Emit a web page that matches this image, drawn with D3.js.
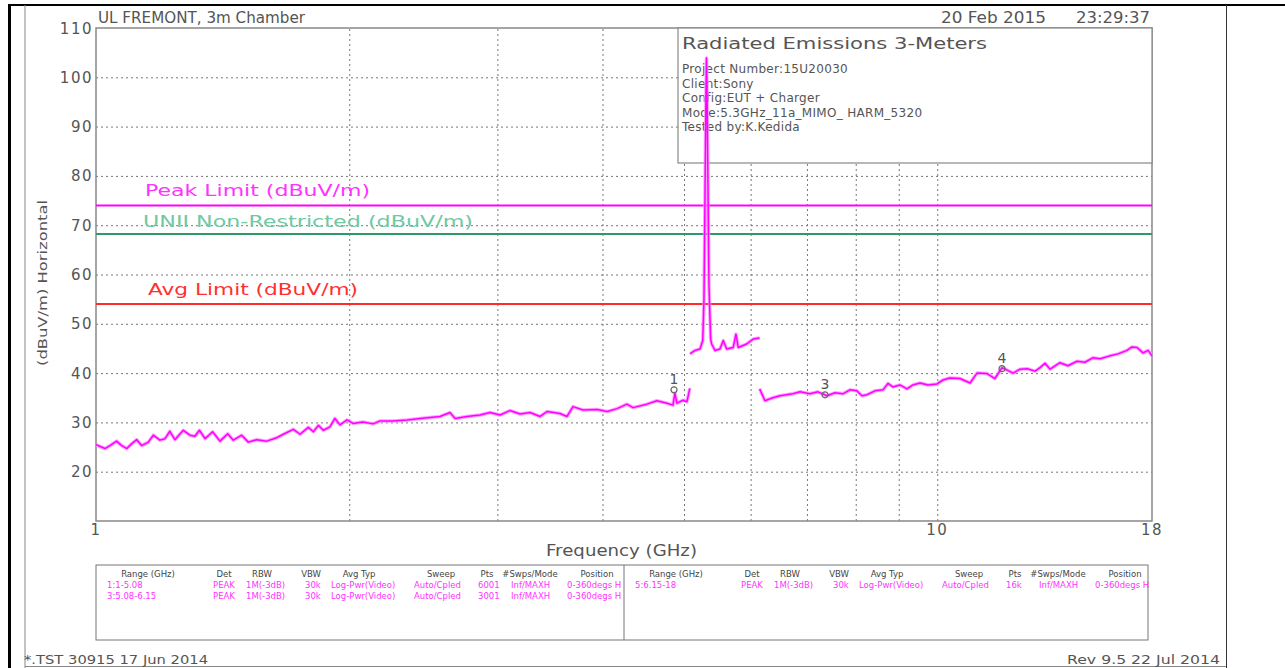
<!DOCTYPE html>
<meta charset="utf-8">
<title>radiated emissions</title>
<style>
  body { margin: 0; background: #fff; }
  text { font-family: "DejaVu Sans", sans-serif; fill: #555; }
  .grid line { stroke: #777; stroke-dasharray: 2,3; }
  .grid path { display: none; }
</style>
<body>
<div class="chart"></div>
</body>
<script src="https://d3js.org/d3.v7.min.js"></script>
<script>

// trace readings, [GHz, dBuV/m]

var seg1 = [
  [1.0,25.5],[1.025,24.7],[1.039,25.3],[1.058,26.2],[1.073,25.3],[1.088,24.7],[1.103,25.7],
  [1.118,26.5],[1.133,25.3],[1.154,26],[1.170,27.4],[1.191,26.4],[1.208,26.7],[1.224,28.2],
  [1.241,26.5],[1.270,28.4],[1.293,27.4],[1.311,27.2],[1.327,28.4],[1.348,26.7],[1.376,28.1],
  [1.404,26.2],[1.434,27.7],[1.456,26.4],[1.490,27.4],[1.517,26],[1.553,26.5],[1.596,26.2],
  [1.640,26.9],[1.670,27.6],[1.716,28.6],[1.748,27.6],[1.788,29],[1.813,28.1],[1.838,29.4],
  [1.863,28.4],[1.897,29.1],[1.923,30.8],[1.950,29.5],[1.988,30.5],[2.021,29.8],[2.077,30.1],
  [2.135,29.7],[2.176,30.3],[2.254,30.3],[2.343,30.5],[2.428,30.8],[2.495,31],[2.564,31.2],
  [2.635,32],[2.672,30.8],[2.761,31.2],[2.861,31.5],[2.940,32],[3.022,31.5],[3.105,32.4],
  [3.192,31.7],[3.281,32],[3.372,31.2],[3.437,32.2],[3.561,31.8],[3.630,31.2],[3.690,33.2],
  [3.793,32.5],[3.941,32.6],[4.051,32.2],[4.163,32.8],[4.278,33.7],[4.349,33],[4.518,33.7],
  [4.643,34.4],[4.772,33.9],[4.851,33.5],[4.877,35.9],[4.904,33.9],[4.985,34.5],[5.040,34.2],
  [5.08,36.9]
];

var seg2 = [
  [5.083,43.9],[5.153,44.6],[5.224,44.9],[5.263,46.6],[5.281,55],[5.295,75],[5.310,97],
  [5.317,103.9],[5.324,98],[5.339,78],[5.353,58],[5.378,47],[5.393,45.9],[5.442,44.6],
  [5.517,44.9],[5.567,46.6],[5.619,44.9],[5.721,45.2],[5.764,47.9],[5.800,45.2],[5.934,45.9],
  [6.043,46.9],[6.15,47.1]
];

var seg3 = [
  [6.15,36.8],[6.240,34.4],[6.378,35],[6.502,35.4],[6.737,35.8],[6.868,36.2],[7.058,35.8],
  [7.214,36.2],[7.394,35.4],[7.558,36],[7.725,35.8],[7.874,36.6],[8.026,36.4],[8.137,35.4],
  [8.249,35.6],[8.433,36.4],[8.619,36.6],[8.738,37.9],[8.857,37.2],[9.029,37.6],[9.204,36.8],
  [9.356,37.6],[9.538,38],[9.750,37.6],[9.993,37.8],[10.16,38.6],[10.35,39],[10.64,38.9],
  [10.94,38],[11.15,40],[11.46,39.9],[11.71,38.9],[11.94,41.1],[12.31,40],[12.54,40.8],
  [12.79,40.9],[13.07,40.4],[13.25,41.1],[13.43,42],[13.62,40.8],[13.99,42.1],[14.30,41.5],
  [14.66,42.4],[14.98,42.2],[15.31,43.1],[15.61,42.9],[16.04,43.5],[16.40,43.9],[16.81,44.6],
  [17.04,45.3],[17.28,45.2],[17.56,44.1],[17.81,44.6],[18,43.5]
];

// limits
var limitNames = ["Peak Limit (dBuV/m)", "UNII Non-Restricted (dBuV/m)", "Avg Limit (dBuV/m)"];
var limitValues = [74, 68.2, 54];

// markers
var markerIds = ["1", "3", "4"];
var markerFreqs = [4.865, 7.355, 11.94];
var markerLevels = [36.6, 35.6, 40.9];

// ticks
var yTicks = [20, 30, 40, 50, 60, 70, 80, 90, 100, 110];
var xGrid = [2, 3, 4, 5, 6, 7, 8, 9, 10];
var xLabels = [1, 10, 18];

// header and info box
var siteName = "UL FREMONT, 3m Chamber";
var runDate = "20 Feb 2015";
var runTime = "23:29:37";
var infoTitle = "Radiated Emissions 3-Meters";
var infoLines = ["Project Number:15U20030", "Client:Sony", "Config:EUT + Charger",
  "Mode:5.3GHz_11a_MIMO_ HARM_5320", "Tested by:K.Kedida"];

// sweep table
var tableHeaders = ["Range (GHz)", "Det", "RBW", "VBW", "Avg Typ", "Sweep", "Pts", "#Swps/Mode", "Position"];
var tableLeft = [
  ["1:1-5.08", "PEAK", "1M(-3dB)", "30k", "Log-Pwr(Video)", "Auto/Cpled", "6001", "Inf/MAXH", "0-360degs H"],
  ["3:5.08-6.15", "PEAK", "1M(-3dB)", "30k", "Log-Pwr(Video)", "Auto/Cpled", "3001", "Inf/MAXH", "0-360degs H"]
];
var tableRight = [
  ["5:6.15-18", "PEAK", "1M(-3dB)", "30k", "Log-Pwr(Video)", "Auto/Cpled", "16k", "Inf/MAXH", "0-360degs H"]
];

var W = 1285, H = 668;
var pL = 96, pR = 1152, pT = 28, pB = 521;

var svg = d3.select(".chart").append("svg")
    .attr("width", W)
    .attr("height", H);

// page frame
svg.append("line").attr("x1", 8).attr("x2", W).attr("y1", 5).attr("y2", 5)
  .attr("stroke", "#000").attr("stroke-width", 2);
svg.append("line").attr("x1", 9.5).attr("x2", 9.5).attr("y1", 4).attr("y2", H)
  .attr("stroke", "#000").attr("stroke-width", 3);
svg.append("line").attr("x1", 25).attr("x2", 25).attr("y1", 5).attr("y2", H)
  .attr("stroke", "#888").attr("stroke-width", 1);
svg.append("line").attr("x1", 1226.5).attr("x2", 1226.5).attr("y1", 5).attr("y2", H)
  .attr("stroke", "#333").attr("stroke-width", 1);
svg.append("line").attr("x1", 25).attr("x2", 1226).attr("y1", 666.5).attr("y2", 666.5)
  .attr("stroke", "#888").attr("stroke-width", 1);

// scales

var x = d3.scaleLog()
  .domain([1, 18])
  .range([pL, pR]);

var y = d3.scaleLinear()
  .domain([10, 110])
  .range([pB, pT]);

// grid

svg.append("g")
  .attr("class", "grid")
  .attr("transform", "translate(" + pL + ",0)")
  .call(d3.axisLeft(y).tickValues(yTicks.slice(0, -1)).tickSize(-(pR - pL)).tickFormat(""));

svg.append("g")
  .attr("class", "grid")
  .attr("transform", "translate(0," + pB + ")")
  .call(d3.axisBottom(x).tickValues(xGrid).tickSize(-(pB - pT)).tickFormat(""));

// plot frame
svg.append("rect")
  .attr("x", pL).attr("y", pT)
  .attr("width", pR - pL).attr("height", pB - pT)
  .attr("fill", "none").attr("stroke", "#888").attr("stroke-width", 1.5);

// tick labels

svg.selectAll("text.ylab")
  .data(yTicks)
  .enter()
  .append("text")
  .attr("class", "ylab")
  .attr("x", 93)
  .attr("y", function(d) { return y(d) + 5.5; })
  .attr("text-anchor", "end")
  .attr("font-size", 15)
  .attr("letter-spacing", 1.5)
  .text(function(d) { return d; });

svg.selectAll("text.xlab")
  .data(xLabels)
  .enter()
  .append("text")
  .attr("class", "xlab")
  .attr("x", function(d) { return x(d); })
  .attr("y", 535)
  .attr("text-anchor", "middle")
  .attr("font-size", 15)
  .attr("letter-spacing", 1.5)
  .text(function(d) { return d; });

svg.append("text")
  .attr("x", 546).attr("y", 556)
  .attr("font-size", 15)
  .attr("textLength", 151).attr("lengthAdjust", "spacingAndGlyphs")
  .text("Frequency (GHz)");

svg.append("text")
  .attr("transform", "translate(47,366) rotate(-90)")
  .attr("font-size", 13)
  .attr("textLength", 166).attr("lengthAdjust", "spacingAndGlyphs")
  .text("(dBuV/m) Horizontal");

// header texts

svg.append("text")
  .attr("x", 98).attr("y", 23)
  .attr("font-size", 15)
  .attr("textLength", 207).attr("lengthAdjust", "spacingAndGlyphs")
  .text(siteName);

svg.append("text")
  .attr("x", 941).attr("y", 23)
  .attr("font-size", 15)
  .attr("textLength", 105).attr("lengthAdjust", "spacingAndGlyphs")
  .text(runDate);

svg.append("text")
  .attr("x", 1076).attr("y", 23)
  .attr("font-size", 15)
  .attr("textLength", 74).attr("lengthAdjust", "spacingAndGlyphs")
  .text(runTime);

// limit lines

var limitColors = ["#ff00ff", "#2e9a68", "#ff2a2a"];
var limitTextColors = ["#ff33ff", "#70c8a4", "#ff3030"];
var limitLabelX = [145, 143, 148];
var limitLabelW = [225, 330, 210];
var limitLabelDy = [-9, -7, -9];

svg.selectAll("line.limit")
  .data(limitValues)
  .enter()
  .append("line")
  .attr("class", "limit")
  .attr("x1", pL).attr("x2", pR)
  .attr("y1", function(d) { return y(d); })
  .attr("y2", function(d) { return y(d); })
  .attr("stroke", function(d, i) { return limitColors[i]; })
  .attr("stroke-width", 2);

svg.selectAll("text.limit")
  .data(limitValues)
  .enter()
  .append("text")
  .attr("class", "limit")
  .attr("x", function(d, i) { return limitLabelX[i]; })
  .attr("y", function(d, i) { return y(d) + limitLabelDy[i]; })
  .attr("font-size", 16)
  .attr("textLength", function(d, i) { return limitLabelW[i]; })
  .attr("lengthAdjust", "spacingAndGlyphs")
  .style("fill", function(d, i) { return limitTextColors[i]; })
  .text(function(d, i) { return limitNames[i]; });

// info box

svg.append("rect")
  .attr("x", 678).attr("y", pT)
  .attr("width", pR - 678).attr("height", 135)
  .attr("fill", "#fff").attr("stroke", "#888").attr("stroke-width", 1.2);

svg.append("text")
  .attr("x", 682).attr("y", 49)
  .attr("font-size", 16)
  .attr("textLength", 305).attr("lengthAdjust", "spacingAndGlyphs")
  .text(infoTitle);

svg.selectAll("text.info")
  .data(infoLines)
  .enter()
  .append("text")
  .attr("class", "info")
  .attr("x", 682)
  .attr("y", function(d, i) { return 73 + i * 14.5; })
  .attr("font-size", 12)
  .attr("letter-spacing", 0.3)
  .text(function(d) { return d; });

// trace

var line = d3.line()
  .x(function(d) { return x(d[0]); })
  .y(function(d) { return y(d[1]); });

var segs = [seg1, seg2, seg3];

svg.selectAll("path.halo")
  .data(segs)
  .enter()
  .append("path")
  .attr("class", "halo")
  .attr("d", line)
  .attr("fill", "none")
  .attr("stroke", "#ff88ff")
  .attr("stroke-width", 3.5)
  .attr("stroke-opacity", 0.8)
  .attr("stroke-linejoin", "round");

svg.selectAll("path.trace")
  .data(segs)
  .enter()
  .append("path")
  .attr("class", "trace")
  .attr("d", line)
  .attr("fill", "none")
  .attr("stroke", "#ff00ff")
  .attr("stroke-width", 1.5)
  .attr("stroke-linejoin", "round");

// markers

var mk = svg.selectAll("g.marker")
  .data(markerIds)
  .enter()
  .append("g")
  .attr("class", "marker")
  .attr("transform", function(d, i) {
    return "translate(" + x(markerFreqs[i]) + "," + y(markerLevels[i]) + ")";
  });

mk.append("circle")
  .attr("r", 3)
  .attr("fill", "none")
  .attr("stroke", "#666")
  .attr("stroke-width", 1.2);

mk.append("text")
  .attr("y", -6)
  .attr("text-anchor", "middle")
  .attr("font-size", 14)
  .text(function(d) { return d; });

// sweep table

svg.append("rect")
  .attr("x", pL).attr("y", 565)
  .attr("width", 1052).attr("height", 75)
  .attr("fill", "none").attr("stroke", "#777").attr("stroke-width", 1);
svg.append("line")
  .attr("x1", 624).attr("x2", 624).attr("y1", 565).attr("y2", 640)
  .attr("stroke", "#777");

var headCenter = [52, 128, 166, 215, 263, 345, 391, 434, 501];
var cellStart = [11, 117, 150, 209, 235, 318, 382, 415, 471];

function drawTable(x0, rows) {
  svg.append("g").selectAll("text")
    .data(tableHeaders)
    .enter()
    .append("text")
    .attr("x", function(d, i) { return x0 + headCenter[i]; })
    .attr("y", 577)
    .attr("text-anchor", "middle")
    .attr("font-size", 8.5)
    .style("fill", "#444")
    .text(function(d) { return d; });

  rows.forEach(function(row, r) {
    svg.append("g").selectAll("text")
      .data(row)
      .enter()
      .append("text")
      .attr("x", function(d, i) { return x0 + cellStart[i]; })
      .attr("y", 588 + r * 11)
      .attr("font-size", 8.5)
      .style("fill", "#ff33ff")
      .text(function(d) { return d; });
  });
}

drawTable(96, tableLeft);
drawTable(624, tableRight);

// footer

svg.append("text")
  .attr("x", 24).attr("y", 664)
  .attr("font-size", 13)
  .attr("textLength", 184).attr("lengthAdjust", "spacingAndGlyphs")
  .text("*.TST 30915 17 Jun 2014");

svg.append("text")
  .attr("x", 1067).attr("y", 664)
  .attr("font-size", 13)
  .attr("textLength", 153).attr("lengthAdjust", "spacingAndGlyphs")
  .text("Rev 9.5 22 Jul 2014");

</script>
